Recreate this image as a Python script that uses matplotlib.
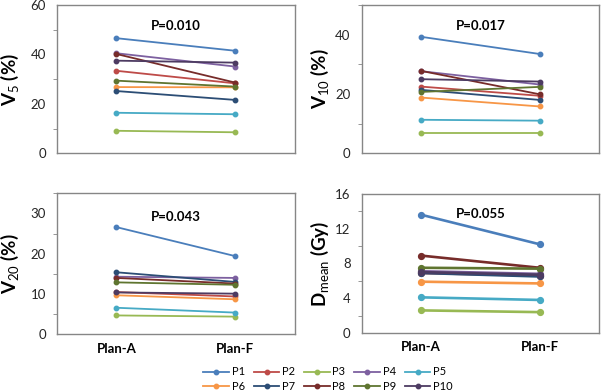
import matplotlib
matplotlib.use("Agg")
import matplotlib.pyplot as plt
from matplotlib.ticker import MultipleLocator

plt.rcParams['font.family'] = ['Lato', 'DejaVu Sans']
plt.rcParams['mathtext.fontset'] = 'custom'
plt.rcParams['mathtext.rm'] = 'Lato'
plt.rcParams['mathtext.it'] = 'Lato'
plt.rcParams['mathtext.bf'] = 'Lato:bold'

categories = ["Plan-A", "Plan-F"]
patients = ["P1", "P2", "P3", "P4", "P5", "P6", "P7", "P8", "P9", "P10"]
colors = ["#4A7EBB", "#BE4B48", "#98B954", "#7D60A0", "#46AAC5",
          "#F79646", "#2C4D75", "#772C2A", "#5F7530", "#4D3B62"]

# values per patient: (Plan-A, Plan-F)
v5 = [(46.6, 41.5), (33.4, 28.3), (9.1, 8.5), (40.5, 35.1), (16.4, 15.8),
      (26.8, 26.7), (25.2, 21.6), (40.2, 28.6), (29.4, 27.0), (37.5, 36.7)]
v10 = [(39.3, 33.5), (22.5, 19.4), (6.8, 6.8), (27.7, 23.2), (11.3, 11.0),
       (18.8, 15.8), (21.4, 18.0), (27.8, 19.9), (20.7, 22.4), (25.0, 24.2)]
v20 = [(26.6, 19.4), (10.5, 9.4), (4.7, 4.4), (14.3, 14.0), (6.6, 5.4),
       (9.7, 8.7), (15.4, 13.0), (14.0, 12.6), (12.9, 12.3), (10.4, 10.1)]
dmean = [(13.6, 10.2), (6.9, 6.6), (2.6, 2.4), (7.1, 6.8), (4.1, 3.8),
         (5.9, 5.7), (6.9, 6.5), (8.9, 7.5), (7.5, 7.4), (7.0, 6.7)]

panels = [
    dict(data=v5, ylabel="V$_{5}$ (%)", ylim=60, major=20, p="P=0.010",
         pos=[0.0947, 0.609, 0.395, 0.378], py=0.86, xt=False, lw=1.3, ms=3.2,
         lx=21),
    dict(data=v10, ylabel="V$_{10}$ (%)", ylim=50, major=20, p="P=0.017",
         pos=[0.601, 0.609, 0.394, 0.378], py=0.86, xt=False, lw=1.3, ms=3.2,
         lx=331),
    dict(data=v20, ylabel="V$_{20}$ (%)", ylim=35, major=10, p="P=0.043",
         pos=[0.0947, 0.147, 0.395, 0.360], py=0.83, xt=True, lw=1.3, ms=3.2,
         lx=21),
    dict(data=dmean, ylabel="D$_{\\mathrm{mean}}$ (Gy)", ylim=16, major=4, p="P=0.055",
         pos=[0.601, 0.1505, 0.394, 0.355], py=0.855, xt=True, lw=1.9, ms=4.2,
         lx=331),
]

fig = plt.figure(figsize=(6.02, 3.92), dpi=100)
handles = []
for k, pn in enumerate(panels):
    ax = fig.add_axes(pn["pos"])
    for i, name in enumerate(patients):
        h, = ax.plot([0, 1], list(pn["data"][i]), color=colors[i], lw=pn["lw"],
                     marker='o', ms=pn["ms"], label=name)
        if k == 0:
            handles.append(h)
    ax.set_xlim(-0.5, 1.5)
    ax.set_ylim(0, pn["ylim"])
    ax.yaxis.set_major_locator(MultipleLocator(pn["major"]))
    ax.yaxis.set_minor_locator(MultipleLocator(pn["major"] / 2))
    ax.tick_params(axis='y', which='major', length=0, pad=8, labelsize=9.5,
                   colors='#262626')
    ax.tick_params(axis='y', which='minor', length=3, color='#868686')
    ax.set_xticks([0, 1])
    if pn["xt"]:
        ax.set_xticklabels(categories, fontweight='bold', fontsize=9.5)
        ax.tick_params(axis='x', length=0, pad=6)
    else:
        ax.set_xticklabels([])
        ax.tick_params(axis='x', length=0)
    for s in ax.spines.values():
        s.set_color('#868686')
        s.set_linewidth(1.0)
    ax.text(0.5, pn["py"], pn["p"], transform=ax.transAxes, ha='center',
            va='center', fontsize=9.5, fontweight='bold')
    ax.set_ylabel(pn["ylabel"], fontsize=13.5, fontweight='bold')
    ax.yaxis.set_label_coords(pn["lx"] / 602, pn["pos"][1] + pn["pos"][3] / 2,
                              transform=fig.transFigure)

order = [0, 5, 1, 6, 2, 7, 3, 8, 4, 9]
fig.legend([handles[i] for i in order], [patients[i] for i in order],
           ncol=5, loc='center', bbox_to_anchor=(0.545, 0.033), frameon=False,
           fontsize=8, handlelength=2.3, handletextpad=0.25, columnspacing=0.8,
           labelspacing=0.3, borderpad=0.1)

fig.savefig("out.png", dpi=100)
